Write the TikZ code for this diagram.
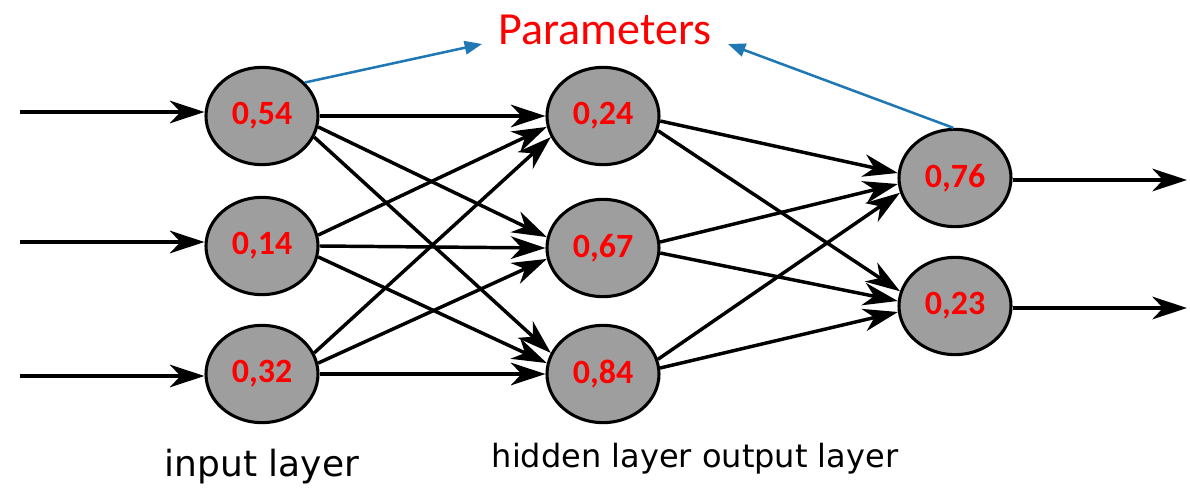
\documentclass[tikz,border=0pt]{standalone}
\usepackage{fontspec}
\setmainfont{Carlito}
\newfontfamily\labfont{DejaVu Sans}
\usetikzlibrary{arrows.meta,shapes.geometric}
\definecolor{nodegray}{RGB}{158,158,158}
\definecolor{pblue}{RGB}{31,119,180}
\definecolor{pred}{RGB}{255,0,0}
\tikzset{
  neuron/.style={ellipse, draw=black, line width=2.3pt, fill=nodegray,
    minimum width=84pt, minimum height=73pt, inner sep=0pt,
    font=\fontsize{25.5}{25.5}\selectfont\bfseries, text=pred},
  conn/.style={line width=2.6pt, -{Stealth[length=26pt,width=17pt,inset=8pt]}},
  blue/.style={draw=pblue, line width=1.9pt, -{Triangle[length=13pt,width=10pt]}},
  lab/.style={font=\labfont\fontsize{24}{24}\selectfont, inner sep=0pt}
}
\begin{document}
\begin{tikzpicture}[x=0.75pt,y=-0.75pt]
\useasboundingbox (0,0) rectangle (1190,493);
% nodes
\node[neuron] (i1) at (262,116) {0,54};
\node[neuron] (i2) at (262,246) {0,14};
\node[neuron] (i3) at (262,374) {0,32};
\node[neuron] (h1) at (603,116) {0,24};
\node[neuron] (h2) at (603,248) {0,67};
\node[neuron] (h3) at (603,374) {0,84};
\node[neuron] (o1) at (955,178) {0,76};
\node[neuron] (o2) at (955,306) {0,23};
\node[font=\fontsize{34.5}{34.5}\selectfont, text=pred, inner sep=0pt] (par) at (605,30) {Parameters};
% free ends
\coordinate (a1) at (20,112);
\coordinate (a2) at (20,242);
\coordinate (a3) at (20,376);
\coordinate (b1) at (1187,180);
\coordinate (b2) at (1187,308);
\coordinate (p1) at (482,44);
\coordinate (p2) at (728,44);
% inputs
\draw[conn] (a1) -- (i1.west |- a1);
\draw[conn] (a2) -- (i2.west |- a2);
\draw[conn] (a3) -- (i3.west |- a3);
% input -> hidden
\foreach \i in {1,2,3}{
  \foreach \h in {1,2,3}{
    \pgfmathsetmacro\k{11*(\h-\i)}
    \draw[conn] (i\i.-\k) -- (h\h.180-\k);
  }
}
% hidden -> output
\foreach \h/\o/\k in {1/1/5, 1/2/15, 2/1/-6, 2/2/5, 3/1/-15, 3/2/-6}{
  \draw[conn] (h\h.-\k) -- (o\o.180-\k);
}
% outputs
\draw[conn] (o1.east |- b1) -- (b1);
\draw[conn] (o2.east |- b2) -- (b2);
% parameter arrows
\draw[blue] (i1.38) -- (p1);
\draw[blue] (o1.92) -- (p2);
% labels
\node[lab, font=\labfont\fontsize{27}{27}\selectfont] (l1) at (262,467) {input layer};
\node[lab] (l2) at (695,459) {hidden layer output layer};
\end{tikzpicture}
\end{document}
